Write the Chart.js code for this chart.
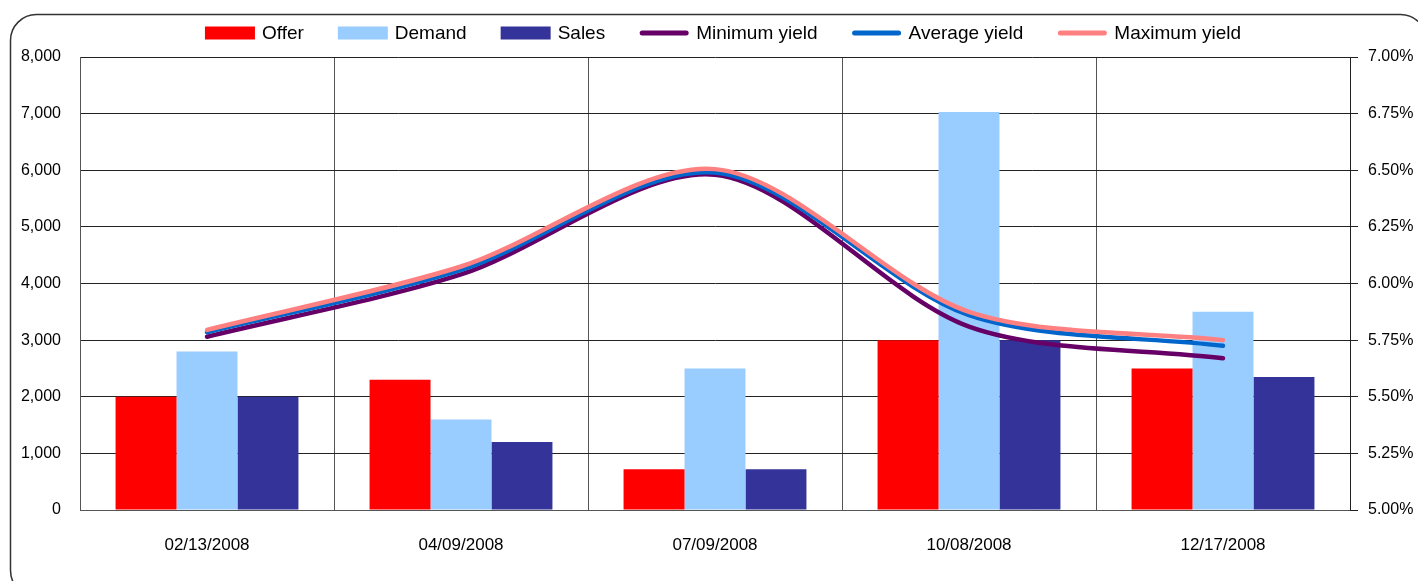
<!DOCTYPE html>
<html><head><meta charset="utf-8">
<script src="https://cdn.jsdelivr.net/npm/chart.js@4"></script>
<style>html,body{margin:0;padding:0;background:#fff;overflow:hidden}#wrap{width:1418px;height:581px;position:relative}canvas{display:block}</style>
</head><body><div id="wrap"><canvas id="c" width="1418" height="581"></canvas></div>
<script>
const categories = ['02/13/2008','04/09/2008','07/09/2008','10/08/2008','12/17/2008'];
const offer  = [2000, 2300, 720, 3000, 2500];
const demand = [2800, 1600, 2500, 7030, 3500];
const sales  = [2000, 1200, 720, 3000, 2350];
const minYield = [5.765, 6.04, 6.48, 5.81, 5.67];
const avgYield = [5.785, 6.06, 6.49, 5.86, 5.725];
const maxYield = [5.795, 6.075, 6.505, 5.875, 5.75];
const leftTickMin = 0, leftTickMax = 8000, leftTickStep = 1000;
const rightTickMin = 5, rightTickMax = 7, rightTickStep = 0.25;

const FONT = '"Liberation Sans", Arial, sans-serif';

const framePlugin = {
  id: 'frame',
  beforeDraw(chart) {
    const ctx = chart.ctx;
    ctx.save();
    ctx.strokeStyle = '#333';
    ctx.lineWidth = 1.5;
    ctx.beginPath();
    ctx.roundRect(10.5, 14.5, 1416, 582, 26);
    ctx.stroke();
    ctx.restore();
  }
};

const legendPlugin = {
  id: 'customLegend',
  afterDraw(chart) {
    const ctx = chart.ctx;
    ctx.save();
    ctx.font = '19px ' + FONT;
    const items = chart.data.datasets.map(d => ({
      text: d.label,
      color: d.type === 'line' ? d.borderColor : d.backgroundColor,
      line: d.type === 'line'
    }));
    const boxW = 50, gap = 7, sep = 34;
    let total = 0;
    items.forEach((it, i) => {
      it.w = ctx.measureText(it.text).width;
      total += boxW + gap + it.w + (i < items.length - 1 ? sep : 0);
    });
    let x = 723 - total / 2;
    const cy = 33;
    ctx.textBaseline = 'middle';
    ctx.fillStyle = '#000';
    items.forEach(it => {
      if (it.line) {
        ctx.strokeStyle = it.color;
        ctx.lineWidth = 5;
        ctx.lineCap = 'round';
        ctx.beginPath();
        ctx.moveTo(x + 3, cy);
        ctx.lineTo(x + boxW - 3, cy);
        ctx.stroke();
      } else {
        ctx.fillStyle = it.color;
        ctx.fillRect(x, cy - 6.5, boxW, 13);
      }
      ctx.fillStyle = '#000';
      ctx.fillText(it.text, x + boxW + gap, cy + 1);
      x += boxW + gap + it.w + sep;
    });
    ctx.restore();
  }
};

const TENSION = 0.3;

new Chart(document.getElementById('c'), {
  type: 'bar',
  data: {
    labels: categories,
    datasets: [
      { label: 'Offer', data: offer, backgroundColor: '#FF0000', order: 3, yAxisID: 'y', categoryPercentage: 0.72, barPercentage: 1.0 },
      { label: 'Demand', data: demand, backgroundColor: '#99CCFF', order: 3, yAxisID: 'y', categoryPercentage: 0.72, barPercentage: 1.0 },
      { label: 'Sales', data: sales, backgroundColor: '#333399', order: 3, yAxisID: 'y', categoryPercentage: 0.72, barPercentage: 1.0 },
      { type: 'line', label: 'Minimum yield', data: minYield, borderColor: '#660066', backgroundColor: '#660066', borderWidth: 4.5, pointRadius: 0, tension: TENSION, borderCapStyle: 'round', yAxisID: 'y1', order: 2 },
      { type: 'line', label: 'Average yield', data: avgYield, borderColor: '#0066CC', backgroundColor: '#0066CC', borderWidth: 4.5, pointRadius: 0, tension: TENSION, borderCapStyle: 'round', yAxisID: 'y1', order: 1 },
      { type: 'line', label: 'Maximum yield', data: maxYield, borderColor: '#FF8080', backgroundColor: '#FF8080', borderWidth: 4.5, pointRadius: 0, tension: TENSION, borderCapStyle: 'round', yAxisID: 'y1', order: 0 }
    ]
  },
  options: {
    responsive: false,
    devicePixelRatio: 1,
    animation: false,
    layout: { padding: { top: 57, left: 0, right: 0, bottom: 0 } },
    plugins: { legend: { display: false }, tooltip: { enabled: false }, title: { display: false } },
    scales: {
      x: {
        grid: { offset: true, color: '#555', drawTicks: false, lineWidth: 1 },
        border: { color: '#555' },
        ticks: { color: '#000', font: { family: FONT, size: 17 }, padding: 25, maxRotation: 0 },
        afterFit(s) { s.height = 71; }
      },
      y: {
        position: 'left',
        min: leftTickMin, max: leftTickMax,
        grid: { color: '#222', drawTicks: false },
        border: { color: '#555' },
        ticks: { stepSize: leftTickStep, color: '#000', font: { family: FONT, size: 16 }, padding: 19,
          callback: v => v.toLocaleString('en-US') },
        afterFit(s) { s.width = 80; }
      },
      y1: {
        position: 'right',
        min: rightTickMin, max: rightTickMax,
        grid: { drawOnChartArea: false, color: '#222', tickLength: 8 },
        border: { color: '#222' },
        ticks: { stepSize: rightTickStep, color: '#000', font: { family: FONT, size: 16 }, padding: 10,
          callback: v => Number(v).toFixed(2) + '%' },
        afterFit(s) { s.width = 68; }
      }
    }
  },
  plugins: [framePlugin, legendPlugin]
});
</script>
</body></html>
